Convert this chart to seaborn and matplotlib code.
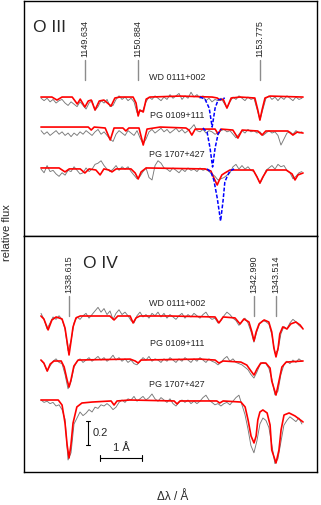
import numpy as np
import matplotlib
matplotlib.use("Agg")
import matplotlib.pyplot as plt
import seaborn as sns

# ---- data: O III panel ----
o3_lines = [1149.634, 1150.884, 1153.775]
o3_grid = np.linspace(1148.594, 1154.764, 88)

o3_wd_obs = [0.99, 0.97, 0.99, 0.96, 0.98, 0.95, 0.97, 0.98, 0.95, 0.93,
             0.96, 0.94, 0.92, 0.96, 0.93, 0.90, 0.95, 0.97, 0.89, 0.92,
             0.97, 0.95, 0.98, 0.92, 0.93, 0.98, 1.01, 0.98, 1.00, 0.97,
             0.99, 0.96, 0.87, 0.88, 0.89, 0.96, 1.00, 0.98, 1.01, 0.99,
             0.97, 1.00, 0.98, 1.02, 0.99, 1.01, 1.03, 0.98, 1.01, 0.99,
             1.04, 1.00, 1.02, 0.99, 1.01, 0.97, 0.99, 0.96, 0.98, 0.97,
             0.99, 0.95, 0.91, 0.96, 1.00, 0.98, 1.01, 0.99, 0.97, 1.00,
             0.98, 0.99, 0.90, 0.81, 0.90, 0.99, 1.01, 0.98, 1.00, 0.97,
             1.00, 0.98, 1.01, 0.99, 0.97, 1.00, 0.98, 0.99]
o3_pg0109_obs = [0.97, 0.94, 0.96, 0.93, 0.95, 0.97, 0.94, 0.96, 0.93, 0.95,
                 0.92, 0.95, 0.93, 0.96, 0.94, 0.97, 0.95, 0.93, 0.96, 0.98,
                 0.94, 0.96, 0.93, 0.90, 0.88, 0.94, 0.97, 0.95, 0.93, 0.97,
                 0.95, 0.93, 0.97, 0.91, 0.86, 0.90, 0.96, 0.98, 0.95, 0.97,
                 0.99, 0.96, 0.98, 0.95, 0.97, 0.99, 0.96, 0.98, 0.95, 0.97,
                 0.99, 1.02, 0.97, 0.96, 0.98, 0.95, 0.97, 0.96, 0.94, 0.95,
                 0.97, 0.98, 0.96, 0.97, 0.94, 0.91, 0.94, 0.97, 0.95, 0.98,
                 0.96, 0.97, 0.95, 0.96, 0.93, 0.95, 0.97, 0.95, 0.96, 0.93,
                 0.85, 0.90, 0.95, 0.96, 0.94, 0.97, 0.95, 0.96]
o3_pg1707_obs = [0.99, 0.96, 1.02, 0.97, 0.98, 0.95, 0.93, 0.96, 0.94, 0.98,
                 0.97, 1.01, 0.98, 0.95, 0.96, 1.00, 0.97, 0.99, 1.03, 1.04,
                 1.06, 1.02, 0.99, 0.97, 0.99, 1.02, 0.98, 1.01, 0.99, 1.01,
                 0.97, 0.94, 0.91, 0.93, 0.97, 1.00, 0.92, 0.90, 1.02, 1.06,
                 1.04, 1.00, 0.99, 0.97, 1.00, 0.98, 0.96, 0.99, 0.97, 1.00,
                 0.98, 0.99, 0.97, 1.00, 0.98, 0.99, 0.97, 0.95, 0.93, 0.90,
                 0.91, 0.92, 0.94, 0.96, 1.01, 1.03, 0.99, 1.02, 0.99, 1.01,
                 0.98, 0.97, 0.93, 0.87, 0.92, 0.98, 1.00, 1.02, 0.99, 1.03,
                 1.01, 1.02, 0.98, 0.96, 0.91, 0.93, 0.96, 0.97]

o3_wd_model = [(1148.59, 1.000), (1148.85, 1.000), (1148.97, 0.975), (1149.09, 1.000), (1149.33, 1.000),
               (1149.45, 0.942), (1149.52, 0.983), (1149.63, 0.917), (1149.71, 0.967), (1149.78, 0.975),
               (1149.87, 0.892), (1149.97, 0.967), (1150.08, 0.975), (1150.25, 0.925), (1150.34, 0.992),
               (1150.46, 1.000), (1150.77, 1.000), (1150.84, 0.950), (1150.89, 0.842), (1150.93, 0.892),
               (1151.01, 0.875), (1151.08, 0.983), (1151.17, 1.000), (1151.88, 1.008), (1152.64, 1.000),
               (1152.76, 0.992), (1152.83, 0.975), (1152.90, 0.983), (1152.99, 0.908), (1153.09, 0.992),
               (1153.30, 1.000), (1153.65, 0.992), (1153.72, 0.892), (1153.77, 0.808), (1153.82, 0.892),
               (1153.89, 0.992), (1154.01, 1.008), (1154.79, 1.000)]
o3_pg0109_model = [(1148.59, 1.000), (1149.28, 1.000), (1149.71, 1.000), (1149.78, 0.975), (1149.85, 1.000),
                   (1150.11, 0.992), (1150.23, 0.892), (1150.32, 0.992), (1150.53, 0.992), (1150.60, 0.967),
                   (1150.67, 0.992), (1150.91, 0.992), (1151.01, 0.850), (1151.10, 0.983), (1151.41, 1.000),
                   (1152.02, 0.992), (1152.09, 0.975), (1152.16, 0.933), (1152.24, 0.983), (1152.71, 0.983),
                   (1152.78, 0.942), (1152.85, 0.983), (1153.13, 0.975), (1153.25, 0.908), (1153.35, 0.975),
                   (1153.72, 0.967), (1153.82, 0.933), (1153.91, 0.967), (1154.43, 0.967), (1154.55, 0.933),
                   (1154.65, 0.958), (1154.79, 0.950)]
o3_pg1707_model = [(1148.59, 1.000), (1149.02, 1.000), (1149.16, 0.967), (1149.26, 0.992), (1149.52, 0.992),
                   (1149.63, 0.958), (1149.73, 0.992), (1149.89, 0.983), (1149.99, 0.942), (1150.08, 0.992),
                   (1150.20, 0.983), (1150.27, 0.967), (1150.37, 0.992), (1150.72, 0.992), (1150.82, 0.958),
                   (1150.89, 0.908), (1150.96, 0.967), (1151.08, 1.000), (1152.47, 0.992), (1152.61, 0.975),
                   (1152.68, 0.917), (1152.76, 0.858), (1152.80, 0.892), (1152.87, 0.942), (1152.94, 0.958),
                   (1153.06, 0.983), (1153.61, 0.983), (1153.70, 0.925), (1153.77, 0.875), (1153.84, 0.925),
                   (1153.94, 0.983), (1154.39, 0.983), (1154.53, 0.950), (1154.60, 0.900), (1154.67, 0.942),
                   (1154.79, 0.958)]

# alternative model (blue dashed)
o3_wd_alt = [(1152.35, 1.000), (1152.47, 0.983), (1152.57, 0.908), (1152.64, 0.750), (1152.71, 0.908),
             (1152.78, 0.975), (1152.87, 0.983), (1152.94, 0.992)]
o3_pg0109_alt = [(1152.42, 0.992), (1152.52, 0.958), (1152.59, 0.825), (1152.65, 0.667), (1152.71, 0.825),
                 (1152.78, 0.942), (1152.85, 0.983)]
o3_pg1707_alt = [(1152.52, 0.992), (1152.61, 0.967), (1152.68, 0.900), (1152.76, 0.750), (1152.84, 0.558),
                 (1152.90, 0.733), (1152.94, 0.883), (1152.99, 0.925), (1153.06, 0.975), (1153.16, 0.992)]

# ---- data: O IV panel ----
o4_lines = [1338.615, 1342.990, 1343.514]
o4_grid = np.linspace(1337.953, 1344.123, 88)

o4_wd_obs = [1.03, 0.98, 0.90, 0.95, 1.00, 0.98, 1.01, 0.98, 0.90, 0.72,
             0.80, 0.95, 1.00, 0.98, 1.01, 1.03, 0.99, 1.02, 1.05, 1.08,
             1.04, 1.07, 1.02, 1.05, 0.98, 1.03, 1.06, 1.02, 1.04, 1.01,
             0.97, 0.95, 1.01, 1.04, 1.00, 1.02, 0.99, 1.03, 1.01, 1.04,
             1.00, 1.03, 0.99, 1.02, 1.00, 0.98, 1.01, 1.03, 0.99, 1.02,
             1.00, 1.03, 1.01, 0.99, 1.02, 1.04, 1.00, 0.98, 0.99, 0.95,
             0.97, 1.01, 1.04, 1.02, 0.99, 0.97, 0.93, 0.96, 0.99, 0.95,
             0.88, 0.79, 0.88, 0.95, 0.97, 0.96, 0.94, 0.85, 0.70, 0.72,
             0.86, 0.92, 0.90, 0.95, 0.98, 0.96, 0.93, 0.91]
o4_pg0109_obs = [1.00, 0.97, 0.91, 0.95, 0.99, 1.01, 0.98, 0.97, 0.88, 0.76,
                 0.82, 0.94, 0.99, 1.01, 0.98, 1.00, 1.02, 0.99, 1.01, 1.03,
                 1.00, 1.02, 0.99, 1.01, 1.04, 1.00, 1.02, 0.99, 1.01, 0.98,
                 1.00, 0.97, 0.96, 0.99, 1.02, 1.00, 1.03, 0.99, 1.01, 1.00,
                 0.98, 1.01, 0.99, 1.02, 1.00, 0.98, 1.01, 0.99, 1.02, 1.00,
                 0.98, 1.01, 0.99, 1.02, 1.00, 0.98, 1.01, 0.99, 0.98, 0.96,
                 0.98, 1.01, 1.03, 0.99, 1.01, 0.98, 0.97, 0.96, 0.94, 0.92,
                 0.88, 0.85, 0.90, 0.96, 0.98, 0.97, 0.93, 0.84, 0.71, 0.74,
                 0.88, 0.96, 0.99, 0.97, 1.00, 0.98, 1.01, 0.99]
o4_pg1707_obs = [1.00, 0.98, 0.99, 0.97, 0.98, 0.95, 0.96, 0.92, 0.84, 0.50,
                 0.56, 0.80, 0.85, 0.90, 0.87, 0.89, 0.92, 0.90, 0.94, 0.93,
                 0.96, 0.95, 0.97, 0.95, 0.92, 0.94, 0.98, 1.00, 0.98, 1.01,
                 1.00, 1.03, 0.99, 1.01, 1.03, 1.00, 1.02, 1.05, 1.01, 0.99,
                 1.02, 1.00, 0.98, 1.01, 0.97, 0.95, 0.98, 1.00, 0.98, 1.00,
                 0.97, 0.99, 0.97, 0.99, 1.02, 1.04, 1.00, 0.98, 0.96, 0.97,
                 0.95, 0.97, 0.98, 0.96, 0.99, 1.02, 1.04, 0.96, 0.88, 0.76,
                 0.62, 0.56, 0.66, 0.80, 0.85, 0.83, 0.77, 0.62, 0.47, 0.51,
                 0.65, 0.79, 0.83, 0.86, 0.84, 0.82, 0.85, 0.80]

o4_wd_model = [(1337.95, 1.008), (1338.02, 0.983), (1338.12, 0.892), (1338.21, 0.975), (1338.31, 1.000),
               (1338.45, 0.983), (1338.52, 0.908), (1338.57, 0.792), (1338.615, 0.683), (1338.66, 0.792),
               (1338.71, 0.917), (1338.78, 0.992), (1338.88, 1.008), (1339.58, 1.008), (1339.68, 0.975),
               (1339.77, 1.008), (1340.06, 1.008), (1340.13, 0.950), (1340.20, 0.992), (1340.29, 1.008),
               (1341.00, 1.008), (1342.07, 1.000), (1342.16, 0.950), (1342.26, 1.000), (1342.54, 0.992),
               (1342.66, 0.942), (1342.75, 0.983), (1342.87, 0.958), (1342.94, 0.875), (1342.99, 0.800),
               (1343.04, 0.875), (1343.11, 0.942), (1343.23, 0.975), (1343.34, 0.958), (1343.41, 0.875),
               (1343.46, 0.742), (1343.51, 0.667), (1343.56, 0.742), (1343.60, 0.858), (1343.67, 0.917),
               (1343.77, 0.900), (1343.86, 0.942), (1343.98, 0.958), (1344.08, 0.933), (1344.15, 0.900)]
o4_pg0109_model = [(1337.95, 1.000), (1338.02, 0.975), (1338.10, 0.908), (1338.17, 0.967), (1338.26, 0.992),
                   (1338.43, 0.992), (1338.50, 0.942), (1338.57, 0.833), (1338.615, 0.775), (1338.66, 0.833),
                   (1338.73, 0.950), (1338.83, 1.000), (1340.06, 1.008), (1340.18, 0.992), (1340.25, 0.975),
                   (1340.32, 1.000), (1341.71, 1.008), (1342.07, 1.000), (1342.16, 0.975), (1342.26, 0.992),
                   (1342.68, 0.983), (1342.82, 0.958), (1342.92, 0.908), (1342.99, 0.875), (1343.06, 0.925),
                   (1343.15, 0.975), (1343.27, 0.975), (1343.37, 0.933), (1343.41, 0.825), (1343.51, 0.708),
                   (1343.58, 0.825), (1343.65, 0.942), (1343.75, 0.983), (1344.15, 0.992)]
o4_pg1707_model = [(1337.95, 1.000), (1338.36, 1.000), (1338.45, 0.958), (1338.52, 0.808), (1338.57, 0.625),
                   (1338.615, 0.517), (1338.66, 0.625), (1338.71, 0.808), (1338.80, 0.942), (1338.92, 0.975),
                   (1339.16, 0.983), (1339.61, 0.992), (1339.68, 0.958), (1339.75, 0.992), (1340.06, 1.000),
                   (1341.10, 0.992), (1341.17, 0.967), (1341.24, 0.992), (1342.11, 0.992), (1342.18, 0.975),
                   (1342.26, 0.992), (1342.68, 0.983), (1342.78, 0.942), (1342.85, 0.833), (1342.92, 0.700),
                   (1342.99, 0.642), (1343.04, 0.700), (1343.08, 0.833), (1343.13, 0.900), (1343.20, 0.917),
                   (1343.30, 0.892), (1343.37, 0.792), (1343.41, 0.583), (1343.51, 0.475), (1343.58, 0.583),
                   (1343.63, 0.750), (1343.70, 0.875), (1343.82, 0.892), (1343.96, 0.867), (1344.15, 0.817)]

stars = ["WD 0111+002", "PG 0109+111", "PG 1707+427"]

# ---- plot ----
sns.set_style("white")
plt.rcParams["font.family"] = ["Liberation Sans", "DejaVu Sans"]

fig = plt.figure(figsize=(3.21, 5.05), dpi=100)
ax_top = fig.add_axes([24 / 321, 269 / 505, 293 / 321, 235 / 505])
ax_bot = fig.add_axes([24 / 321, 33 / 505, 293 / 321, 236 / 505])

panels = [
    dict(ax=ax_top, xlim=(1148.19, 1155.12), ylim=(0, 235 / 120), grid=o3_grid, lines=o3_lines, ion="O III",
         offsets=[0.158, -0.092, -0.433], label_y=[1.325, 1.008, 0.683], label_x=1151.81,
         obs=[o3_wd_obs, o3_pg0109_obs, o3_pg1707_obs],
         model=[o3_wd_model, o3_pg0109_model, o3_pg1707_model],
         alt=[o3_wd_alt, o3_pg0109_alt, o3_pg1707_alt], ion_x=1148.41),
    dict(ax=ax_bot, xlim=(1337.55, 1344.48), ylim=(0, 236 / 120), grid=o4_grid, lines=o4_lines, ion="O IV",
         offsets=[0.292, -0.067, -0.400], label_y=[1.40, 1.067, 0.733], label_x=1341.17,
         obs=[o4_wd_obs, o4_pg0109_obs, o4_pg1707_obs],
         model=[o4_wd_model, o4_pg0109_model, o4_pg1707_model],
         alt=[None, None, None], ion_x=1338.95),
]

for p in panels:
    ax = p["ax"]
    for i in range(3):
        off = p["offsets"][i]
        sns.lineplot(x=p["grid"], y=np.array(p["obs"][i]) + off, ax=ax, color="#787878", lw=0.65)
        m = np.array(p["model"][i]).T
        sns.lineplot(x=m[0], y=m[1] + off, ax=ax, color="red", lw=1.2)
        if p["alt"][i] is not None:
            a = np.array(p["alt"][i]).T
            sns.lineplot(x=a[0], y=a[1] + off, ax=ax, color="blue", lw=1.1, linestyle=(0, (2.5, 1.2)))
        ax.text(p["label_x"], p["label_y"][i], stars[i], fontsize=6.5, ha="center", va="center")
    for lam in p["lines"]:
        ax.plot([lam, lam], [1.30, 1.47], color="#8c8c8c", lw=1.0)
        ax.text(lam, 1.495, f"{lam:.3f}", rotation=90, fontsize=6.5, ha="center", va="bottom")
    ax.text(p["ion_x"], 1.70, p["ion"], fontsize=12.5, ha="left", va="baseline")
    ax.set_xlim(*p["xlim"])
    ax.set_ylim(*p["ylim"])
    ax.set_xticks([])
    ax.set_yticks([])
    ax.set_xlabel("")
    ax.set_ylabel("")
    for s in ax.spines.values():
        s.set_color("black")
        s.set_linewidth(1.0)

# scale bars
ax_bot.plot([1339.064, 1339.064], [0.225, 0.425], color="black", lw=0.8)
ax_bot.plot([1339.02, 1339.11], [0.225, 0.225], color="black", lw=0.8)
ax_bot.plot([1339.02, 1339.11], [0.425, 0.425], color="black", lw=0.8)
ax_bot.text(1339.17, 0.325, "0.2", fontsize=8, ha="left", va="center")
ax_bot.plot([1339.348, 1340.348], [0.119, 0.119], color="black", lw=0.8)
ax_bot.plot([1339.348, 1339.348], [0.094, 0.144], color="black", lw=0.8)
ax_bot.plot([1340.348, 1340.348], [0.094, 0.144], color="black", lw=0.8)
ax_bot.text(1339.85, 0.16, "1 Å", fontsize=8, ha="center", va="bottom")

fig.text(7 / 321, 1 - 233 / 505, "relative flux", rotation=90, fontsize=8, ha="center", va="center")
fig.text(173 / 321, 1 - 497 / 505, "Δλ / Å", fontsize=8.5, ha="center", va="center")

fig.savefig("out.png", dpi=100)
